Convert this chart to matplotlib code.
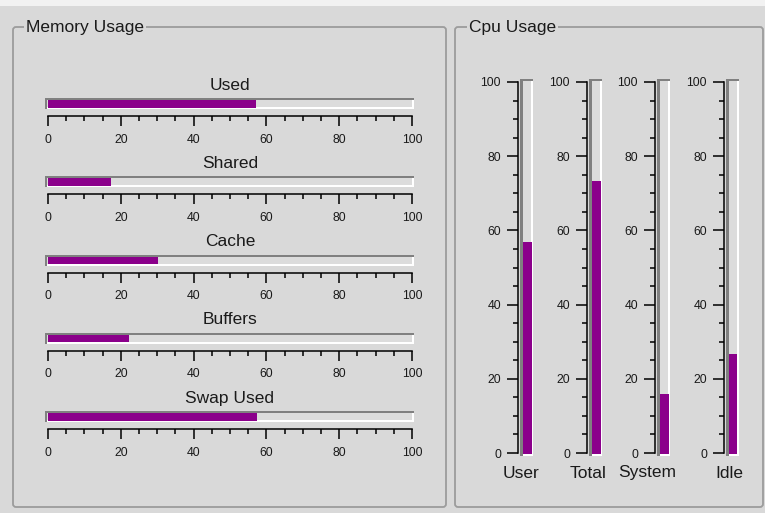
import matplotlib
matplotlib.use("Agg")
import matplotlib.pyplot as plt
from matplotlib.patches import Rectangle, FancyBboxPatch
from matplotlib.ticker import MultipleLocator

# ---------------- data ----------------
mem_labels = ["Used", "Shared", "Cache", "Buffers", "Swap Used"]
mem_values = [57.3, 17.3, 30.2, 22.3, 57.4]
cpu_labels = ["User", "Total", "System", "Idle"]
cpu_values = [57.1, 73.3, 16.2, 27.0]
panel_titles = ["Memory Usage", "Cpu Usage"]
scale_min, scale_max = 0, 100

# ---------------- style ----------------
W, H = 765, 513
BG = "#d9d9d9"
FILL = "#8b008b"
DARK = "#808080"
LIGHT = "#ffffff"
TROUGH = "#dcdcdc"
TXT = "#1a1a1a"
FONT = "Liberation Sans"
plt.rcParams["font.family"] = [FONT, "DejaVu Sans"]

fig = plt.figure(figsize=(W / 100, H / 100), dpi=100, facecolor=BG)


def frac(x0, y0, x1, y1):
    return [x0 / W, 1 - y1 / H, (x1 - x0) / W, (y1 - y0) / H]


bg = fig.add_axes([0, 0, 1, 1], zorder=0)
bg.set_xlim(0, W)
bg.set_ylim(H, 0)
bg.set_axis_off()
bg.add_patch(Rectangle((0, 0), W, H, facecolor=BG, edgecolor="none"))
bg.add_patch(Rectangle((0, 0), W, 6, facecolor="#f2f2f2", edgecolor="none"))


def frame(x0, y0, x1, y1, title, tx0):
    bg.add_patch(FancyBboxPatch((x0, y0), x1 - x0, y1 - y0,
                                boxstyle="round,pad=0,rounding_size=3",
                                facecolor="none", edgecolor="#9c9c9c", lw=1.3))
    bg.text(tx0, y0 + 0.3, title, ha="left", va="center", fontsize=12.5,
            color=TXT, family=FONT,
            bbox=dict(facecolor=BG, edgecolor="none", pad=1.5))


frame(13, 27, 446, 507, panel_titles[0], 26)
frame(455, 27, 763, 507, panel_titles[1], 469)


def trough(x0, y0, x1, y1, dl=2, db=2):
    bg.add_patch(Rectangle((x0, y0), x1 - x0, y1 - y0, facecolor=TROUGH, edgecolor="none"))
    bg.add_patch(Rectangle((x0, y1 - db), x1 - x0, db, facecolor=LIGHT, edgecolor="none"))
    bg.add_patch(Rectangle((x1 - 2, y0), 2, y1 - y0, facecolor=LIGHT, edgecolor="none"))
    bg.add_patch(Rectangle((x0, y0), x1 - x0, 2, facecolor=DARK, edgecolor="none"))
    bg.add_patch(Rectangle((x0, y0), dl, y1 - y0, facecolor=DARK, edgecolor="none"))


# ---------------- memory (horizontal scales) ----------------
sx0, sx1 = 48, 412
for i, (lab, val) in enumerate(zip(mem_labels, mem_values)):
    off = 78.25 * i
    ty = 98 + off
    trough(45, ty, 414, ty + 11)
    bg.text((sx0 + sx1) / 2, 85 + off, lab, ha="center", va="center",
            fontsize=12.5, color=TXT, family=FONT)
    fa = fig.add_axes(frac(sx0 - 0.5, ty + 2, sx1, ty + 9.5), zorder=2)
    fa.set_xlim(scale_min, scale_max)
    fa.set_ylim(0, 1)
    fa.barh(0.5, val, height=1.0, left=0, color=FILL, edgecolor="none")
    fa.set_axis_off()

    base = 116 + off
    sa = fig.add_axes(frac(sx0, base - 1, sx1, base), zorder=2)
    sa.patch.set_visible(False)
    for s in ("top", "left", "right"):
        sa.spines[s].set_visible(False)
    sa.spines["bottom"].set_linewidth(1.1)
    sa.spines["bottom"].set_color("black")
    sa.set_xlim(scale_min, scale_max)
    sa.xaxis.set_major_locator(MultipleLocator(20))
    sa.xaxis.set_minor_locator(MultipleLocator(5))
    sa.set_yticks([])
    sa.tick_params(axis="x", which="major", direction="out", length=7.2, width=1.1,
                   pad=5.5, labelsize=8.8, labelcolor=TXT)
    sa.tick_params(axis="x", which="minor", direction="out", length=3.6, width=1.1)
    for t in sa.get_xticklabels():
        t.set_family(FONT)

# ---------------- cpu (vertical scales) ----------------
trough_left = [520, 589, 657, 726]
label_x = [521.5, 588, 647, 729]
y0v, y1v = 82, 453
for lab, val, tl, lx in zip(cpu_labels, cpu_values, trough_left, label_x):
    trough(tl, 79, tl + 13, 456, dl=3)
    fa = fig.add_axes(frac(tl + 3, y0v, tl + 11.5, y1v + 1), zorder=2)
    fa.set_ylim(scale_min, scale_max)
    fa.set_xlim(0, 1)
    fa.bar(0.5, val, width=1.0, bottom=0, color=FILL, edgecolor="none")
    fa.set_axis_off()

    ax_x = tl - 2
    sa = fig.add_axes(frac(ax_x, y0v, ax_x + 1, y1v), zorder=2)
    sa.patch.set_visible(False)
    for s in ("top", "bottom", "right"):
        sa.spines[s].set_visible(False)
    sa.spines["left"].set_linewidth(1.1)
    sa.spines["left"].set_color("black")
    sa.set_ylim(scale_min, scale_max)
    sa.yaxis.set_major_locator(MultipleLocator(20))
    sa.yaxis.set_minor_locator(MultipleLocator(5))
    sa.set_xticks([])
    sa.tick_params(axis="y", which="major", direction="out", length=8.0, width=1.1,
                   pad=4.3, labelsize=8.8, labelcolor=TXT)
    sa.tick_params(axis="y", which="minor", direction="out", length=3.6, width=1.1)
    for t in sa.get_yticklabels():
        t.set_family(FONT)
    bg.text(lx, 473, lab, ha="center", va="center", fontsize=12.5,
            color=TXT, family=FONT)

fig.savefig("out.png", dpi=100, facecolor=BG)
